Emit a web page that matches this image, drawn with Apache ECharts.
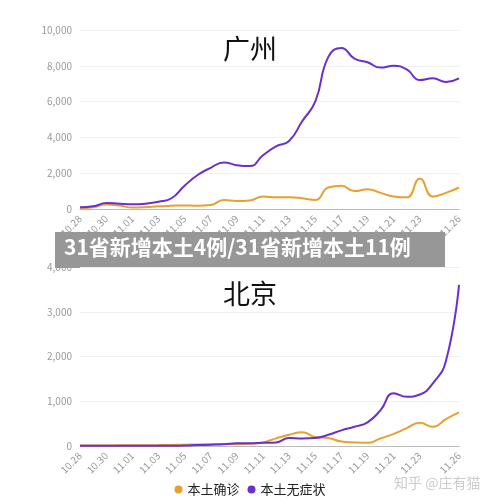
<!DOCTYPE html><html><head><meta charset="utf-8"><script src="https://cdn.jsdelivr.net/npm/echarts@6/dist/echarts.min.js"></script><style>body{margin:0;background:#fff}#c{width:500px;height:503px}</style></head><body><div id="c"></div><script>
const dates=['10.28','10.29','10.30','10.31','11.01','11.02','11.03','11.04','11.05','11.06','11.07','11.08','11.09','11.10','11.11','11.12','11.13','11.14','11.15','11.16','11.17','11.18','11.19','11.20','11.21','11.22','11.23','11.24','11.25','11.26'];
const gzConfirmed=[50,100,250,200,80,100,150,180,200,180,220,500,450,480,700,650,650,600,500,1200,1300,1000,1100,900,700,650,1700,700,900,1200];
const gzAsym=[100,150,330,300,270,300,400,600,1300,1900,2300,2600,2450,2400,3000,3500,3800,4900,6000,8500,9000,8400,8200,7900,8000,7800,7200,7300,7100,7300];
const bjConfirmed=[10,10,12,15,15,18,20,25,30,35,40,45,40,50,80,170,250,310,200,180,100,80,70,170,270,400,520,430,600,750];
const bjAsym=[5,5,8,8,5,5,5,5,10,20,30,40,60,60,70,80,180,170,180,250,350,430,530,800,1180,1100,1150,1400,1900,3600];
const gzTicks=[0,2000,4000,6000,8000,10000];
const bjTicks=[0,1000,2000,3000,4000];
const P='#6a2fcf',O='#e8a030';
const lab={color:'#999',fontSize:10,rotate:45,interval:(i)=>(i%2===0&&i!==28)||i===29};
const xa=(g)=>({type:'category',gridIndex:g,data:dates,boundaryGap:false,axisTick:{show:false},axisLine:{lineStyle:{color:'#bbb'}},axisLabel:lab});
const ya=(g,t)=>({type:'value',gridIndex:g,min:0,max:t[t.length-1],interval:t[1],axisLabel:{color:'#999',fontSize:10,formatter:v=>v.toLocaleString('en-US')},splitLine:{lineStyle:{color:'#f0f0f0'}}});
const ln=(n,d,c,g)=>({name:n,type:'line',xAxisIndex:g,yAxisIndex:g,data:d,smooth:true,symbol:'none',lineStyle:{width:2,color:c},itemStyle:{color:c}});
const ch=echarts.init(document.getElementById('c'));
ch.setOption({animation:false,textStyle:{fontFamily:'Noto Sans CJK SC'},
grid:[{left:80,right:41,top:30,bottom:294},{left:80,right:41,top:267,bottom:57}],
xAxis:[xa(0),xa(1)],yAxis:[ya(0,gzTicks),ya(1,bjTicks)],
title:[{text:'广州',left:'center',top:30,textStyle:{fontSize:27,fontWeight:'normal',color:'#111'}},{text:'北京',left:'center',top:275,textStyle:{fontSize:27,fontWeight:'normal',color:'#111'}}],
legend:{bottom:2,left:'center',icon:'circle',itemWidth:8,itemHeight:8,textStyle:{fontSize:13,color:'#222'},data:['本土确诊','本土无症状']},
series:[ln('本土确诊',gzConfirmed,O,0),ln('本土无症状',gzAsym,P,0),ln('本土确诊',bjConfirmed,O,1),ln('本土无症状',bjAsym,P,1)],
graphic:[{type:'rect',left:55,top:232,shape:{width:390,height:36},style:{fill:'rgba(140,140,140,0.9)'}},
{type:'text',left:64,top:237,style:{text:'31省新增本土4例/31省新增本土11例',fill:'#fff',font:'bold 21px "Noto Sans CJK SC"'}},
{type:'text',left:394,top:476,style:{text:'知乎 @庄有猫',fill:'#ccc',font:'14px "Noto Sans CJK SC"'}}]});
</script></body></html>
